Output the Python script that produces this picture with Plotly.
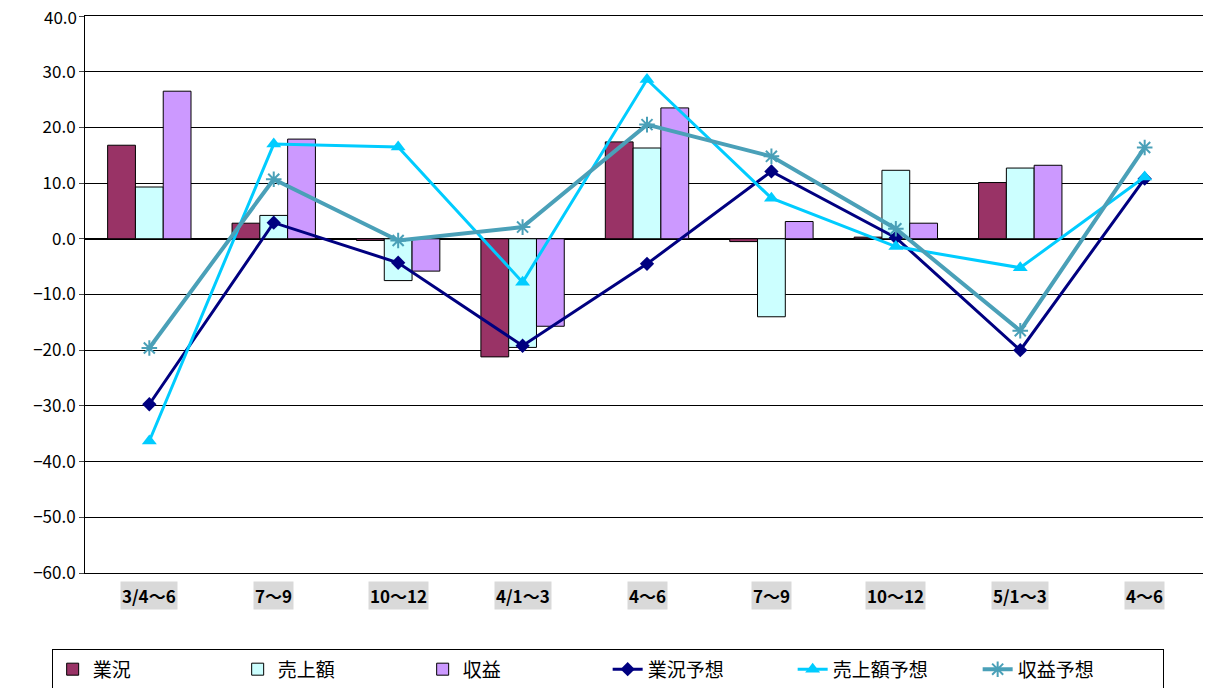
import plotly.graph_objects as go

cats = ["3/4～6", "7～9", "10～12", "4/1～3", "4～6", "7～9 ", "10～12 ", "5/1～3", "4～6 "]
gyokyo = [16.8, 2.8, -0.3, -21.2, 17.4, -0.5, 0.3, 10.1, None]
uriage = [9.3, 4.2, -7.5, -19.5, 16.3, -14.0, 12.3, 12.7, None]
shueki = [26.5, 17.9, -5.8, -15.7, 23.5, 3.1, 2.8, 13.2, None]
gyokyo_f = [-29.7, 2.9, -4.3, -19.2, -4.5, 12.1, 0.2, -20.0, 10.8]
uriage_f = [-36.3, 17.0, 16.5, -7.8, 28.6, 7.3, -1.4, -5.2, 11.1]
shueki_f = [-19.6, 10.7, -0.3, 2.1, 20.5, 14.8, 1.8, -16.5, 16.4]
y_top = 40

font = "Noto Sans CJK JP"
fig = go.Figure()
for name, vals, col in [("業況", gyokyo, "#993366"), ("売上額", uriage, "#ccffff"), ("収益", shueki, "#cc99ff")]:
    fig.add_trace(go.Bar(x=cats, y=vals, name=name, marker=dict(color=col, line=dict(color="black", width=1))))
fig.add_trace(go.Scatter(x=cats, y=gyokyo_f, name="業況予想", mode="lines+markers",
                         line=dict(color="#000080", width=3), marker=dict(symbol="diamond", size=11)))
fig.add_trace(go.Scatter(x=cats, y=uriage_f, name="売上額予想", mode="lines+markers",
                         line=dict(color="#00ccff", width=3), marker=dict(symbol="triangle-up", size=13)))
fig.add_trace(go.Scatter(x=cats, y=shueki_f, name="収益予想", mode="lines+markers",
                         line=dict(color="#4aa0b8", width=4),
                         marker=dict(symbol="asterisk-open", size=13, line=dict(width=2, color="#4aa0b8"))))

for c in cats:
    fig.add_annotation(x=c, y=-60, yref="y", yanchor="top", yshift=-8, text="<b>%s</b>" % c.strip(),
                       showarrow=False, bgcolor="#d9d9d9", font=dict(size=17, family=font, color="black"))
# top tick label gets clipped by plotly, so draw it as text
fig.add_annotation(x=0, xref="paper", y=y_top, yref="y", xanchor="right", xshift=-6, yanchor="middle",
                   text="%.1f" % y_top, showarrow=False, font=dict(size=17, family=font, color="black"))

fig.update_layout(
    width=1211, height=688, margin=dict(l=77, r=10, t=8, b=122),
    plot_bgcolor="white", paper_bgcolor="white", barmode="group", bargap=0.33, bargroupgap=0,
    font=dict(family=font, size=17, color="black"),
    xaxis=dict(showticklabels=False, showline=True, linecolor="black", mirror=True, ticks="", automargin=False),
    yaxis=dict(range=[-60, y_top], dtick=10, tickformat=".1f", showgrid=True, gridcolor="black", gridwidth=1,
               showline=True, linecolor="black", mirror=True, zeroline=True, zerolinecolor="black",
               ticks="outside", ticklen=5, tickfont=dict(size=17, family=font), automargin=False),
    legend=dict(orientation="h", x=0.465, xanchor="center", y=-0.135, yanchor="top",
                bordercolor="black", borderwidth=1, font=dict(size=19, family=font),
                entrywidth=140, traceorder="normal"),
)
fig.write_html("out.html")
